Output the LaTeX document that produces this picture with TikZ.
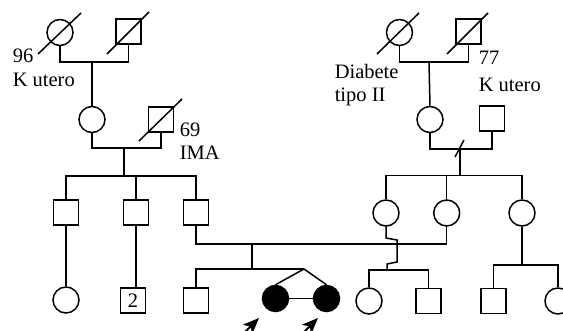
\documentclass[tikz,border=0pt]{standalone}
\usepackage{fontspec}
\setmainfont{Liberation Serif}
\usetikzlibrary{arrows.meta}
\begin{document}
\begin{tikzpicture}[x=1pt,y=-1pt,line width=1.5pt,
  male/.style={draw,rectangle,minimum size=25pt,inner sep=0pt},
  female/.style={draw,circle,minimum size=26pt,inner sep=0pt},
  aff/.style={female,fill=black},
  lbl/.style={anchor=base west,inner sep=0pt,font=\fontsize{20.5}{22}\selectfont},
  dead/.style={line width=1.5pt},
  prob/.style={-{Stealth[length=16pt,width=13pt,inset=4pt]},line width=2pt}]
\useasboundingbox (0,0) rectangle (563,331);
\clip (0,0) rectangle (563,331);
% Generation I left
\node[female] (f1) at (60,32.5) {};
\node[male] (m1) at (128.5,31.5) {};
\draw[dead] (38,54) -- (81,13);
\draw[dead] (107,54) -- (149,12);
\coordinate (u1) at (92,62);
\draw (f1.south) |- (u1) -| (m1.south);
% Generation II left
\node[female] (f2) at (92,119.5) {};
\node[male] (m2) at (161,119.5) {};
\draw (u1) -- (f2.north);
\draw[dead] (139,141) -- (182,99);
\coordinate (u2) at (124,148);
\draw (f2.south) |- (u2) -| (m2.south);
\coordinate (s2) at (124,176);
\draw (u2) -- (s2);
% Generation III left
\node[male] (c1) at (66,212.5) {};
\node[male] (c2) at (136,212.5) {};
\node[male] (c3) at (196,212.5) {};
\draw (s2) -| (c1.north);
\draw (s2) -| (c2.north);
\draw (s2) -| (c3.north);
% Generation IV left
\node[female] (d1) at (66,300) {};
\node[male,font=\fontsize{20.5}{22}\selectfont] (d2) at (133,300.5) {2};
\draw (c1.south) -- (d1.north);
\draw (c2.south) -- (c2.south |- d2.north);
% Generation I right
\node[female] (f3) at (399.5,32.5) {};
\node[male] (m3) at (468.5,31.5) {};
\draw[dead] (377,54) -- (419,13);
\draw[dead] (447,54) -- (488,13);
\coordinate (u4) at (429,62);
\draw (f3.south) |- (u4) -| (m3.south);
% Generation II right
\node[female] (f4) at (430,119.5) {};
\node[male] (m4) at (492,118.5) {};
\draw (u4) -- (f4.north);
\coordinate (u5) at (460,149);
\draw (f4.south) |- (u5) -| (m4.south);
\draw (455,157) -- (464,140);
\coordinate (s5) at (460,175.5);
\draw (u5) -- (s5);
% Generation III right
\node[female] (r1) at (386,213) {};
\node[female] (r2) at (446.7,213) {};
\node[female] (r3) at (522,213) {};
\draw (s5) -| (r1.north);
\draw (s5) -| (r2.north);
\draw (s5) -| (r3.north);
% marriage c3 - r2
\coordinate (u3) at (252,244);
\draw (c3.south) |- (u3) -| (r2.south);
\coordinate (s3) at (252,269);
\draw (u3) -- (s3);
% children of c3 and r2
\node[male] (d3) at (196,300.5) {};
\node[aff] (t1) at (275.5,298.5) {};
\node[aff] (t2) at (326.5,298.5) {};
\coordinate (tw) at (304,269);
\draw (s3) -| (d3.north);
\draw (s3) -- (tw);
\draw (tw) -- (t1.north);
\draw (tw) -- (t2.north);
\draw (t1) -- (t2);
% children of r1
\coordinate (s6) at (387,270);
\draw (r1.south) -- (386,238) -- (397,240) -- (397,262) -- (387,264) -- (s6);
\node[female] (e1) at (369,301) {};
\node[male] (e2) at (428.5,301) {};
\draw (s6) -| (e1.north);
\draw (s6) -| (e2.north);
% children of r3
\coordinate (s7) at (522,265);
\draw (r3.south) -- (s7);
\node[male] (e3) at (493.5,301) {};
\node[female] (e4) at (558,301) {};
\draw (s7) -| (e3.north);
\draw (s7) -| (e4.north);
% proband arrows
\coordinate (a1) at (238,339);
\coordinate (b1) at (259,318);
\coordinate (a2) at (297,339);
\coordinate (b2) at (318,318);
\draw[prob] (a1) -- (b1);
\draw[prob] (a2) -- (b2);
% labels
\node[lbl] (l1) at (12,63) {96};
\node[lbl] (l2) at (12,87) {K utero};
\node[lbl] (l3) at (179,137) {69};
\node[lbl] (l4) at (179,160) {IMA};
\node[lbl] (l5) at (334,79) {Diabete};
\node[lbl] (l6) at (334,102) {tipo II};
\node[lbl] (l7) at (478,65) {77};
\node[lbl] (l8) at (478,92) {K utero};
\end{tikzpicture}
\end{document}
